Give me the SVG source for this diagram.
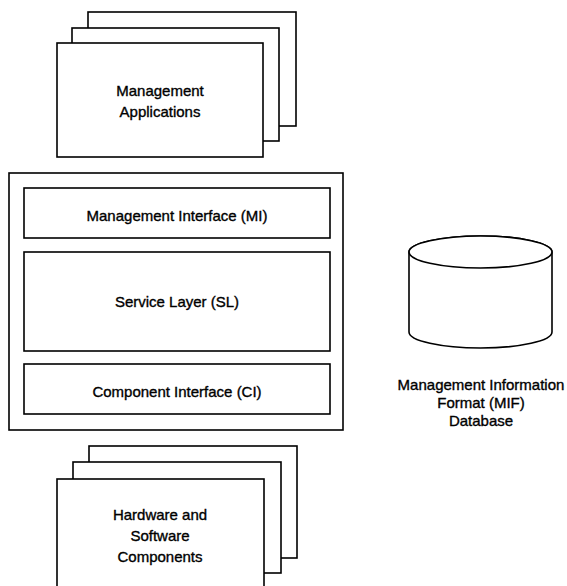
<svg xmlns="http://www.w3.org/2000/svg" width="567" height="586" viewBox="0 0 567 586">
<style>
.box{fill:#fff;stroke:#000;stroke-width:1.6}
.t{font-family:"Liberation Sans",Arial,sans-serif;font-size:15px;fill:#000;stroke:#000;stroke-width:0.35;text-anchor:middle}
</style>
<rect width="567" height="586" fill="#fff"/>
<g id="mgmt-apps">
<rect class="box" x="88" y="12" width="208" height="114"/>
<rect class="box" x="72" y="28" width="207" height="113"/>
<rect class="box" x="57" y="43" width="206" height="114"/>
<text class="t" x="160" y="96">Management</text>
<text class="t" x="160" y="117">Applications</text>
</g>
<g id="dmi-frame">
<rect class="box" x="9" y="173" width="334" height="257"/>
</g>
<g id="mi">
<rect class="box" x="24" y="188" width="306" height="50"/>
<text class="t" x="177" y="221">Management Interface (MI)</text>
</g>
<g id="sl">
<rect class="box" x="24" y="252" width="306" height="99"/>
<text class="t" x="177" y="307">Service Layer (SL)</text>
</g>
<g id="ci">
<rect class="box" x="24" y="364" width="306" height="50"/>
<text class="t" x="177" y="397">Component Interface (CI)</text>
</g>
<g id="hw-sw">
<rect class="box" x="89" y="446" width="208" height="112"/>
<rect class="box" x="73" y="462" width="208" height="111"/>
<rect class="box" x="57" y="479" width="207" height="112"/>
<text class="t" x="160" y="520">Hardware and</text>
<text class="t" x="160" y="541">Software</text>
<text class="t" x="160" y="562">Components</text>
</g>
<g id="mif-db">
<path class="box" d="M409,252 L409,332 A71.5,16 0 0 0 552,332 L552,252 A71.5,16 0 0 0 409,252 Z"/>
<ellipse class="box" cx="480.5" cy="252" rx="71.5" ry="16"/>
<text class="t" x="481" y="390">Management Information</text>
<text class="t" x="481" y="408">Format (MIF)</text>
<text class="t" x="481" y="426">Database</text>
</g>
<g id="connectors"></g>
</svg>
